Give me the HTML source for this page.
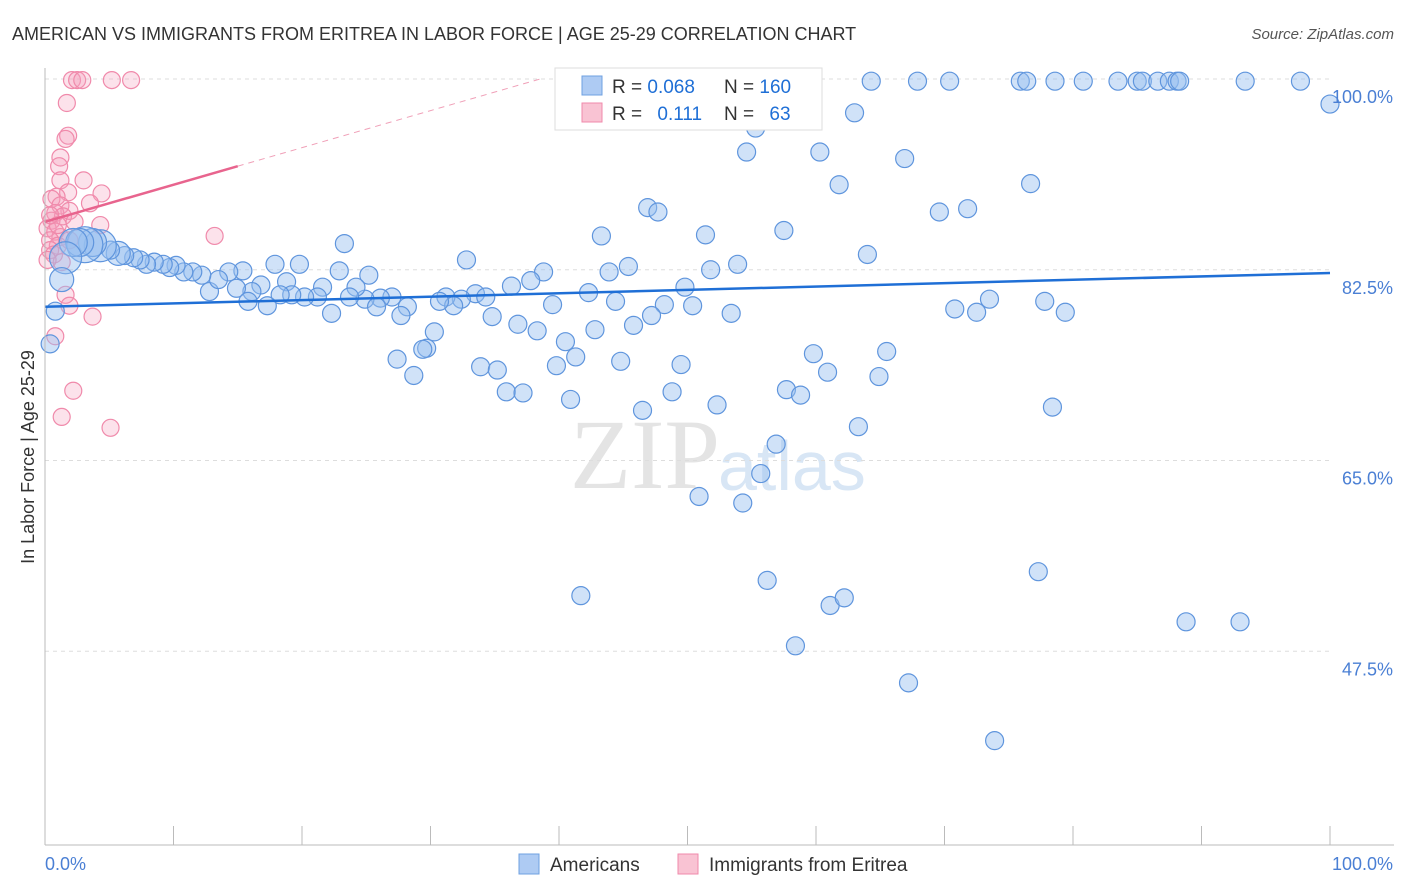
<!DOCTYPE html>
<html><head><meta charset="utf-8"><style>
body{margin:0;background:#fff;font-family:"Liberation Sans",sans-serif}
svg{display:block}
</style></head><body>
<svg id="chart" width="1406" height="892">
<text x="12" y="40" font-size="18" fill="#333">AMERICAN VS IMMIGRANTS FROM ERITREA IN LABOR FORCE | AGE 25-29 CORRELATION CHART</text>
<text x="1394" y="39" font-size="15" fill="#555" font-style="italic" text-anchor="end">Source: ZipAtlas.com</text>
<text x="720" y="488" font-size="100" fill="#e4e4e4" text-anchor="end" font-family="Liberation Serif">ZIP</text>
<text x="718" y="490" font-size="70" fill="#d8e6f5">atlas</text>
<g id="grid"></g><g id="marks"></g><g id="axes"></g>
<text transform="translate(34,457) rotate(-90)" font-size="18" fill="#333" text-anchor="middle">In Labor Force | Age 25-29</text>
<text x="45" y="870" font-size="18" fill="#4a7fd4">0.0%</text>
<text x="1393" y="870" font-size="18" fill="#4a7fd4" text-anchor="end">100.0%</text>
<g>
<rect x="555" y="68" width="267" height="62" fill="#fff" stroke="#ddd"/>
<rect x="582" y="76" width="20" height="19" fill="#aecbf3" stroke="#6fa0e0"/>
<rect x="582" y="103" width="20" height="19" fill="#f9c3d3" stroke="#f08aab"/>
<text x="612" y="93" font-size="19" fill="#333">R = <tspan fill="#1f6fd6">0.068</tspan></text>
<text x="724" y="93" font-size="19" fill="#333">N = <tspan fill="#1f6fd6">160</tspan></text>
<text x="612" y="120" font-size="19" fill="#333">R = <tspan fill="#1f6fd6" dx="10">0.111</tspan></text>
<text x="724" y="120" font-size="19" fill="#333">N = <tspan fill="#1f6fd6" dx="10">63</tspan></text>
</g>
<g>
<rect x="519" y="854" width="20" height="20" fill="#aecbf3" stroke="#6fa0e0"/>
<text x="550" y="871" font-size="19" fill="#333">Americans</text>
<rect x="678" y="854" width="20" height="20" fill="#f9c3d3" stroke="#f08aab"/>
<text x="709" y="871" font-size="19" fill="#333">Immigrants from Eritrea</text>
</g>
</svg>
<script>
const yTicks=[100,82.5,65,47.5];
const yTickLabels=["100.0%","82.5%","65.0%","47.5%"];
const blueX=[64.3,67.9,70.4,75.9,76.4,78.6,80.8,83.5,85.0,85.4,86.6,87.5,88.1,88.3,93.4,97.7,100,55.3,63.0,54.6,60.3,66.9,61.8,76.7,46.9,47.7,69.6,71.8,43.3,51.4,57.5,23.3,64.0,32.8,53.9,51.8,45.4,43.9,38.8,37.8,17.9,19.8,15.4,14.3,25.2,22.9,18.8,36.3,49.8,42.3,44.4,48.2,50.4,73.5,77.8,70.8,72.5,79.4,53.4,47.2,45.8,42.8,39.5,36.8,38.3,34.8,33.5,32.4,31.2,31.8,30.7,34.3,28.2,27.0,26.1,24.9,24.2,23.7,25.8,27.7,22.3,21.6,21.2,20.2,19.2,18.3,16.8,16.1,14.9,15.8,17.3,12.8,13.5,12.2,11.5,10.8,10.2,9.7,9.2,8.5,7.9,7.4,6.9,6.2,5.7,5.1,4.3,3.7,3.1,2.7,2.2,1.6,1.3,0.8,0.4,30.3,29.7,29.4,27.4,28.7,33.9,35.2,40.5,41.3,39.8,44.8,49.5,40.9,35.9,37.2,46.5,48.8,52.3,57.7,58.8,59.8,60.9,65.5,64.9,78.4,63.3,56.9,55.7,50.9,54.3,56.2,41.7,61.1,62.2,77.3,88.8,93.0,58.4,67.2,73.9];
const blueY=[99.8,99.8,99.8,99.8,99.8,99.8,99.8,99.8,99.8,99.8,99.8,99.8,99.8,99.8,99.8,99.8,97.7,95.5,96.9,93.3,93.3,92.7,90.3,90.4,88.2,87.8,87.8,88.1,85.6,85.7,86.1,84.9,83.9,83.4,83.0,82.5,82.8,82.3,82.3,81.5,83.0,83.0,82.4,82.3,82.0,82.4,81.4,81.0,80.9,80.4,79.6,79.3,79.2,79.8,79.6,78.9,78.6,78.6,78.5,78.3,77.4,77.0,79.3,77.5,76.9,78.2,80.3,79.8,80.0,79.2,79.6,80.0,79.1,80.0,79.9,79.8,80.9,80.0,79.1,78.3,78.5,80.9,80.0,80.0,80.2,80.2,81.1,80.5,80.8,79.6,79.2,80.5,81.6,82.0,82.3,82.3,82.9,82.7,83.0,83.2,83.0,83.4,83.6,83.8,84.0,84.3,84.7,85.0,84.8,85.0,85.0,83.6,81.6,78.7,75.7,76.8,75.3,75.2,74.3,72.8,73.6,73.3,75.9,74.5,73.7,74.1,73.8,70.6,71.3,71.2,69.6,71.3,70.1,71.5,71.0,74.8,73.1,75.0,72.7,69.9,68.1,66.5,63.8,61.7,61.1,54.0,52.6,51.7,52.4,54.8,50.2,50.2,48.0,44.6,39.3];
const blueBig={"3.1":18,"4.3":16,"2.2":14,"1.6":16,"1.3":12,"5.7":12,"3.7":14,"2.7":14};
const pinkX=[2.1,2.5,2.9,5.2,6.7,1.7,1.8,1.6,1.2,1.1,1.2,3.0,1.8,4.4,0.9,0.5,1.2,3.5,1.9,0.8,1.4,0.5,2.3,4.3,0.2,0.8,1.2,0.4,1.9,1.0,0.4,0.7,1.3,13.2,1.6,1.9,3.7,0.8,2.2,1.3,5.1,0.2,1.0,0.4];
const pinkY=[99.9,99.9,99.9,99.9,99.9,97.8,94.8,94.5,92.8,92.0,90.7,90.7,89.6,89.5,89.2,89.0,88.4,88.6,87.9,87.7,87.4,87.0,86.9,86.6,86.3,86.0,85.5,85.2,85.2,84.7,84.3,83.9,83.2,85.6,80.2,79.2,78.2,76.4,71.4,69.0,68.0,83.4,86.6,87.5];
const blueTrend=[79.1,82.2];
const pinkTrend=[86.9,0.34];
const X=v=>45+v*12.85, Y=v=>79+(100-v)*10.9;
const NS="http://www.w3.org/2000/svg";
function mk(t,a,p){const e=document.createElementNS(NS,t);for(const k in a)e.setAttribute(k,a[k]);document.getElementById(p).appendChild(e);return e;}
yTicks.forEach((t,i)=>{
 const g=mk('line',{x1:45,x2:1330,y1:Y(t),y2:Y(t),stroke:'#ddd','stroke-dasharray':'4,4'},'grid');
 
 
 const l=mk('text',{x:1393,y:Y(t)+24,'font-size':18,fill:'#4a7fd4','text-anchor':'end'},'axes');
 l.textContent=yTickLabels[i];
 
 
});
let ax=mk('line',{x1:45,x2:1394,y1:845,y2:845,stroke:'#bbb'},'axes');


let ay=mk('line',{x1:45,x2:45,y1:68,y2:845,stroke:'#bbb'},'axes');


for(let i=1;i<=10;i++){const t=mk('line',{x1:X(i*10),x2:X(i*10),y1:826,y2:845,stroke:'#bbb'},'axes');
 
 }
pinkX.forEach((x,i)=>{const c=mk('circle',{cx:X(x),cy:Y(pinkY[i]),r:8.5,fill:'rgba(245,160,190,0.3)',stroke:'#f08aab','stroke-width':1.2},'marks');
 
 });
blueX.forEach((x,i)=>{const c=mk('circle',{cx:X(x),cy:Y(blueY[i]),r:blueBig[x.toFixed(1)]||9,fill:'rgba(150,190,240,0.45)',stroke:'#5f95dd','stroke-width':1.2},'marks');
 
 });
let bl=mk('line',{x1:X(0),x2:X(100),y1:Y(blueTrend[0]),y2:Y(blueTrend[1]),stroke:'#1f6fd6','stroke-width':2.5},'marks');


const pend=(100-pinkTrend[0])/pinkTrend[1];
let pd=mk('line',{x1:X(15),x2:X(pend),y1:Y(pinkTrend[0]+15*pinkTrend[1]),y2:Y(100),stroke:'#f0a0b8','stroke-width':1,'stroke-dasharray':'6,5'},'marks');


let pl=mk('line',{x1:X(0),x2:X(15),y1:Y(pinkTrend[0]),y2:Y(pinkTrend[0]+15*pinkTrend[1]),stroke:'#e8648e','stroke-width':2.5},'marks');


</script>
</body></html>
